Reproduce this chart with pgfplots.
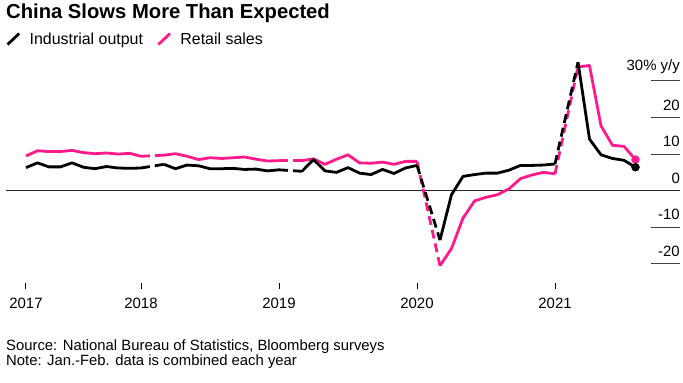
\documentclass[border=0pt]{standalone}
\usepackage{pgfplots}
\pgfplotsset{compat=1.18}
\usepackage{fontspec}
\setmainfont{Liberation Sans}
\definecolor{bpink}{HTML}{FF1A8C}
\pgfplotsset{
  ip/.style={black, line width=2.8bp, line join=round, line cap=butt},
  rs/.style={bpink, line width=2.8bp, line join=round, line cap=butt},
  dsh/.style={dash pattern=on 9bp off 5bp},
}
\begin{document}
\begin{tikzpicture}
\useasboundingbox (-6bp,-100bp) rectangle (677bp,283bp);
\node[anchor=base west, inner sep=0pt, font=\bfseries\fontsize{20.3}{23}\selectfont] at (0bp,264.5bp) {China Slows More Than Expected};
\node[anchor=base west, inner sep=0pt, font=\fontsize{14.9}{17}\selectfont] at (0bp,-67bp) {Source: National Bureau of Statistics, Bloomberg surveys};
\node[anchor=base west, inner sep=0pt, font=\fontsize{14.9}{17}\selectfont] at (0bp,-82bp) {Note: Jan.-Feb. data is combined each year};
% short gridlines at the right
\begin{axis}[
  at={(645bp,0bp)}, anchor=south west,
  scale only axis, width=29bp, height=224.1bp,
  xmin=0, xmax=1, ymin=-25.22, ymax=36.0,
  axis line style={draw=none}, tick style={draw=none},
  xtick=\empty, ytick={-20,-10,10,20,30}, yticklabels={},
  ymajorgrids, major grid style={black!75, line width=0.9bp},
]
\addplot[draw=none, forget plot] coordinates {(0,0)};
\end{axis}
\begin{axis}[
  scale only axis, width=674bp, height=224.1bp,
  xmin=0.261, xmax=58.87, ymin=-25.22, ymax=36.0,
  axis x line=none,
  axis y line*=right, y axis line style={draw=none},
  ytick={-20,-10,0,10,20,30}, yticklabels={-20,-10,0,10,20,30\% y/y},
  ytick style={draw=none},
  yticklabel style={anchor=south east, inner sep=0pt, yshift=7bp, font=\fontsize{15}{18}\selectfont},
  clip=false,
  legend style={draw=none, fill=none, at={(axis description cs:0,1.0888)}, anchor=west,
    legend columns=2, inner sep=0pt, font=\fontsize{16}{18}\selectfont,
    /tikz/every odd column/.style={column sep=9bp},
    /tikz/every even column/.style={column sep=14bp},
    nodes={inner sep=0pt}},
  legend image code/.code={\draw[#1] (0.7bp,-5.5bp) -- (12.3bp,5.5bp);},
]
\addlegendimage{ip}\addlegendentry{Industrial output}
\addlegendimage{rs}\addlegendentry{Retail sales}
% zero line
\addplot[forget plot, black!85, line width=1.1bp] coordinates {(0.261,0) (58.87,0)};
% Retail sales
\addplot[forget plot, rs] coordinates {(2,9.5)(3,10.9)(4,10.7)(5,10.7)(6,11.0)(7,10.4)(8,10.1)(9,10.3)(10,10.0)(11,10.2)(12,9.4)};
\addplot[forget plot, rs, dsh] coordinates {(12,9.4)(14,9.7)};
\addplot[forget plot, rs] coordinates {(14,9.7)(15,10.1)(16,9.4)(17,8.5)(18,9.0)(19,8.8)(20,9.0)(21,9.2)(22,8.6)(23,8.1)(24,8.2)};
\addplot[forget plot, rs, dsh] coordinates {(24,8.2)(26,8.2)};
\addplot[forget plot, rs] coordinates {(26,8.2)(27,8.7)(28,7.2)(29,8.6)(30,9.8)(31,7.6)(32,7.5)(33,7.8)(34,7.2)(35,8.0)(36,8.0)};
\addplot[forget plot, rs, dsh] coordinates {(36,8.0)(38,-20.5)};
\addplot[forget plot, rs] coordinates {(38,-20.5)(39,-15.8)(40,-7.5)(41,-2.8)(42,-1.8)(43,-1.1)(44,0.5)(45,3.3)(46,4.3)(47,5.0)(48,4.6)};
\addplot[forget plot, rs, dsh] coordinates {(48,4.6)(50,33.8)};
\addplot[forget plot, rs] coordinates {(50,33.8)(51,34.2)(52,17.7)(53,12.4)(54,12.1)(55,8.5)};
\addplot[forget plot, bpink, mark=*, mark size=4bp, only marks] coordinates {(55,8.5)};
% Industrial output
\addplot[forget plot, ip] coordinates {(2,6.3)(3,7.6)(4,6.5)(5,6.5)(6,7.6)(7,6.4)(8,6.0)(9,6.6)(10,6.2)(11,6.1)(12,6.2)};
\addplot[forget plot, ip, dsh] coordinates {(12,6.2)(14,7.2)};
\addplot[forget plot, ip] coordinates {(14,7.2)(15,6.0)(16,7.0)(17,6.8)(18,6.0)(19,6.0)(20,6.1)(21,5.8)(22,5.9)(23,5.4)(24,5.7)};
\addplot[forget plot, ip, dsh] coordinates {(24,5.7)(26,5.3)};
\addplot[forget plot, ip] coordinates {(26,5.3)(27,8.5)(28,5.4)(29,5.0)(30,6.3)(31,4.8)(32,4.4)(33,5.8)(34,4.7)(35,6.2)(36,6.9)};
\addplot[forget plot, ip, dsh] coordinates {(36,6.9)(38,-13.5)};
\addplot[forget plot, ip] coordinates {(38,-13.5)(39,-1.1)(40,3.9)(41,4.4)(42,4.8)(43,4.8)(44,5.6)(45,6.9)(46,6.9)(47,7.0)(48,7.3)};
\addplot[forget plot, ip, dsh] coordinates {(48,7.3)(50,35.1)};
\addplot[forget plot, ip] coordinates {(50,35.1)(51,14.1)(52,9.8)(53,8.8)(54,8.3)(55,6.4)};
\addplot[forget plot, black, mark=*, mark size=4bp, only marks] coordinates {(55,6.4)};
\end{axis}
\begin{axis}[
  scale only axis, width=674bp, height=224.1bp,
  xmin=0.261, xmax=58.87, ymin=-25.22, ymax=36.0,
  axis y line=none,
  axis x line*=bottom, x axis line style={draw=none},
  xtick={2,12,24,36,48}, xticklabels={2017,2018,2019,2020,2021},
  xtick align=outside, major tick length=6bp,
  xtick style={draw=black, line width=1bp},
  xticklabel style={anchor=north, inner sep=0pt, yshift=-9bp, font=\fontsize{15}{18}\selectfont},
]
\addplot[draw=none, forget plot] coordinates {(2,0)};
\end{axis}
\end{tikzpicture}
\end{document}
